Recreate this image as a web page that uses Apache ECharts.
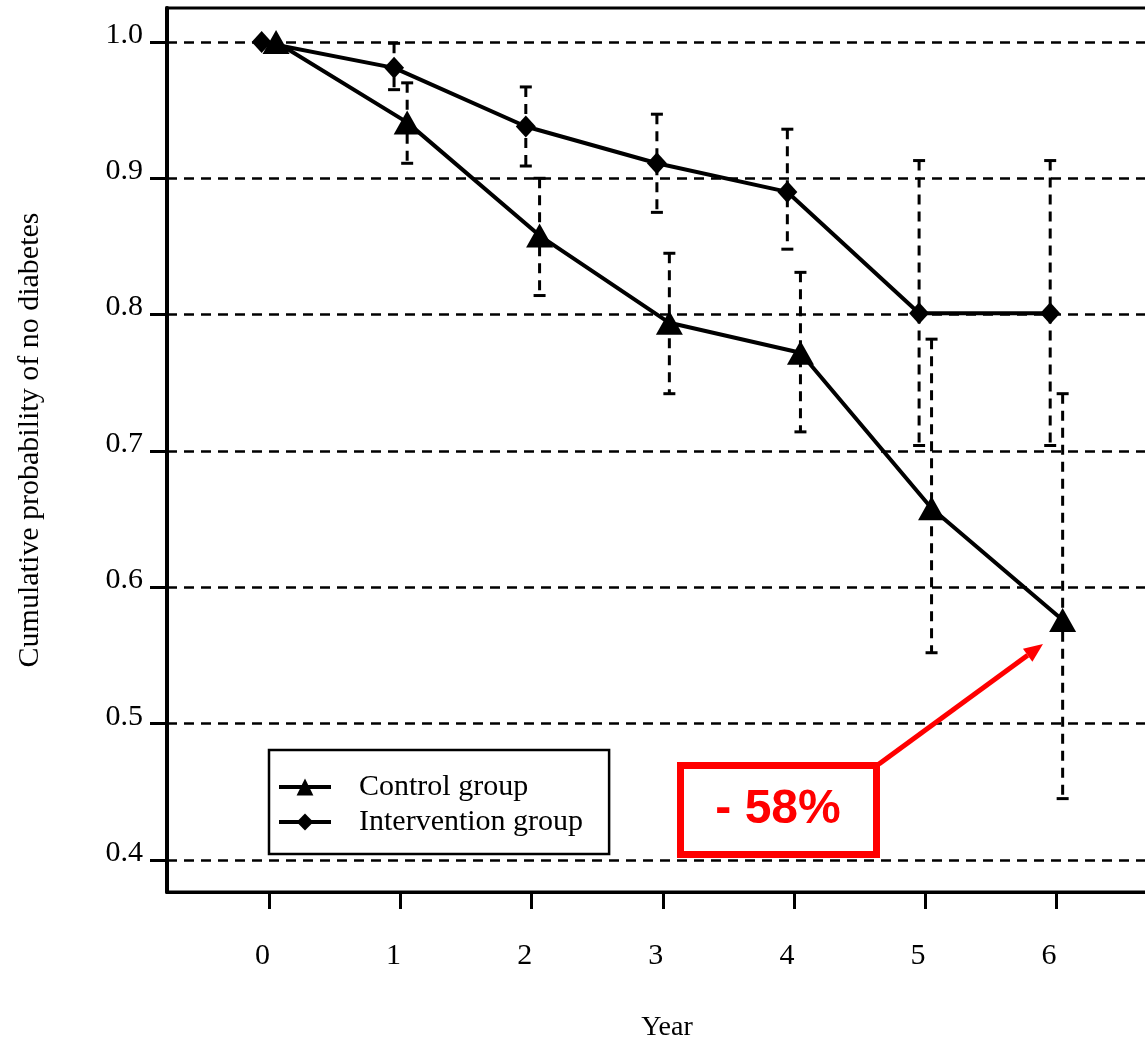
<!DOCTYPE html>
<html><head><meta charset="utf-8">
<script src="https://cdn.jsdelivr.net/npm/echarts@6/dist/echarts.min.js"></script>
<style>html,body{margin:0;padding:0;background:#fff}#c{width:1145px;height:1038px}</style>
</head><body><div id="c"></div>
<script>
// ---- data ----
const years = [0, 1, 2, 3, 4, 5, 6];
const yTicks = [0.4, 0.5, 0.6, 0.7, 0.8, 0.9, 1.0];
const seriesNames = ['Control group', 'Intervention group'];
const controlX = [0.05, 1.05, 2.06, 3.05, 4.05, 5.05, 6.05];
const controlY = [1.0, 0.941, 0.858, 0.794, 0.772, 0.658, 0.576];
const controlLow = [null, 0.911, 0.814, 0.742, 0.714, 0.552, 0.445];
const controlHigh = [null, 0.970, 0.900, 0.845, 0.831, 0.782, 0.742];
const interX = [-0.06, 0.95, 1.955, 2.955, 3.95, 4.955, 5.955];
const interY = [1.0, 0.981, 0.938, 0.911, 0.890, 0.801, 0.801];
const interLow = [null, 0.965, 0.909, 0.875, 0.848, 0.704, 0.704];
const interHigh = [null, 0.999, 0.967, 0.947, 0.936, 0.913, 0.913];
const annotationText = '- 58%';
const xTitle = 'Year';
const yTitle = 'Cumulative probability of no diabetes';

// ---- build ----
const SERIF = "'Liberation Serif','Times New Roman',serif";
const zip = (xs, ys) => xs.map((x, i) => [x, ys[i]]);
const errData = (xs, lo, hi) => xs.map((x, i) => [x, lo[i], hi[i]]).filter(d => d[1] != null);

function errRender(params, api) {
  const x = api.value(0), lo = api.value(1), hi = api.value(2);
  const pLo = api.coord([x, lo]), pHi = api.coord([x, hi]);
  const hw = 6;
  const st = { stroke: '#000', lineWidth: 3 };
  return {
    type: 'group', children: [
      { type: 'line', shape: { x1: pHi[0], y1: pHi[1], x2: pLo[0], y2: pLo[1] }, style: { stroke: '#000', lineWidth: 3, lineDash: [10, 7] } },
      { type: 'line', shape: { x1: pHi[0] - hw, y1: pHi[1], x2: pHi[0] + hw, y2: pHi[1] }, style: st },
      { type: 'line', shape: { x1: pLo[0] - hw, y1: pLo[1], x2: pLo[0] + hw, y2: pLo[1] }, style: st }
    ]
  };
}

// arrow geometry (annotation)
const arrStart = [879, 764], arrTip = [1043, 644];
const dx = arrTip[0] - arrStart[0], dy = arrTip[1] - arrStart[1];
const L = Math.hypot(dx, dy), ux = dx / L, uy = dy / L;
const headLen = 19, headHW = 8;
const base = [arrTip[0] - ux * headLen, arrTip[1] - uy * headLen];

const chart = echarts.init(document.getElementById('c'));
chart.setOption({
  animation: false,
  backgroundColor: '#fff',
  grid: { left: 167, top: 8, width: 1000, height: 884, show: true, borderColor: '#000', borderWidth: 3, containLabel: false, outerBoundsMode: 'none' },
  xAxis: {
    type: 'value', min: -0.782, max: 6.846,
    name: xTitle, nameLocation: 'middle', nameGap: 122,
    nameTextStyle: { fontFamily: SERIF, fontSize: 28, color: '#000' },
    axisLine: { show: true, onZero: false, lineStyle: { color: '#000', width: 3 } },
    axisTick: { show: true, inside: false, length: 17, customValues: years, lineStyle: { color: '#000', width: 3 } },
    axisLabel: { customValues: years, margin: 49, fontFamily: SERIF, fontSize: 30, color: '#000', padding: [0, 14, 0, 0] },
    splitLine: { show: false }
  },
  yAxis: {
    type: 'value', min: 0.3765, max: 1.0249,
    name: yTitle, nameLocation: 'middle', nameGap: 122,
    nameTextStyle: { fontFamily: SERIF, fontSize: 30, color: '#000', padding: [0, 0, 0, 20] },
    axisLine: { show: true, onZero: false, lineStyle: { color: '#000', width: 4 } },
    axisTick: { show: true, inside: false, length: 17, customValues: yTicks, lineStyle: { color: '#000', width: 3 } },
    axisLabel: { customValues: yTicks, margin: 24, fontFamily: SERIF, fontSize: 30, color: '#000', verticalAlign: 'bottom', lineHeight: 14, formatter: v => v.toFixed(1) },
    splitLine: { show: true, lineStyle: { color: '#000', width: 2.5, type: [10, 7] } }
  },
  legend: {
    orient: 'vertical', left: 269, top: 750,
    data: seriesNames,
    itemWidth: 52, itemHeight: 21, itemGap: 5,
    padding: [22, 26, 17, 8],
    borderColor: '#000', borderWidth: 2.5, backgroundColor: '#fff',
    lineStyle: { width: 4, color: '#000' },
    textStyle: { fontFamily: SERIF, fontSize: 30, color: '#000', padding: [0, 0, 0, 23] },
    selectedMode: false
  },
  series: [
    { type: 'custom', renderItem: errRender, data: errData(controlX, controlLow, controlHigh), z: 1, silent: true },
    { type: 'custom', renderItem: errRender, data: errData(interX, interLow, interHigh), z: 1, silent: true },
    {
      name: seriesNames[0], type: 'line', data: zip(controlX, controlY), z: 3,
      symbol: 'triangle', symbolSize: [27, 24], showAllSymbol: true,
      lineStyle: { color: '#000', width: 4 }, itemStyle: { color: '#000' }
    },
    {
      name: seriesNames[1], type: 'line', data: zip(interX, interY), z: 3,
      symbol: 'diamond', symbolSize: [20, 22], showAllSymbol: true,
      lineStyle: { color: '#000', width: 4 }, itemStyle: { color: '#000' }
    }
  ],
  graphic: [
    { type: 'rect', z: 10, shape: { x: 680.5, y: 765.5, width: 196, height: 89 }, style: { fill: '#fff', stroke: '#ff0000', lineWidth: 7 } },
    { type: 'text', z: 11, x: 778, y: 810, style: { text: annotationText, fill: '#ff0000', font: "bold 48px 'Liberation Sans', Arial, sans-serif", align: 'center', verticalAlign: 'middle' } },
    { type: 'line', z: 10, shape: { x1: arrStart[0], y1: arrStart[1], x2: base[0], y2: base[1] }, style: { stroke: '#ff0000', lineWidth: 5 } },
    { type: 'polygon', z: 10, shape: { points: [arrTip, [base[0] - uy * headHW, base[1] + ux * headHW], [base[0] + uy * headHW, base[1] - ux * headHW]] }, style: { fill: '#ff0000' } }
  ]
});
</script></body></html>
